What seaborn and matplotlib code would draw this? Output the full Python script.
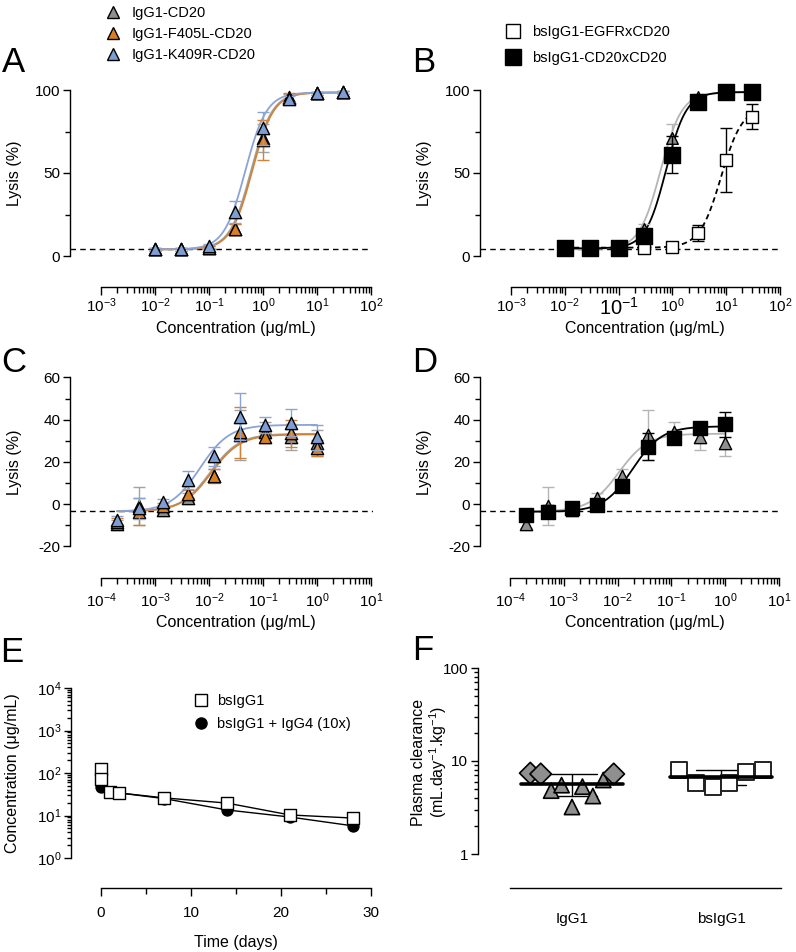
import numpy as np
import pandas as pd
import matplotlib
matplotlib.use("Agg")
import matplotlib.pyplot as plt
import seaborn as sns
from matplotlib.lines import Line2D
from matplotlib.ticker import FixedLocator, NullFormatter

# ---------------------------------------------------------------- data
# Panels A/B : CDC lysis vs concentration (ug/mL)
conc_ab = [0.01, 0.03, 0.1, 0.3, 1, 3, 10, 30]
igg1_cd20_ab = [4.0, 4.0, 5.0, 16.5, 71.0, 95.5, 98.0, 98.5]
igg1_cd20_ab_err = [1.0, 1.0, 1.0, 3.0, 8.5, 2.0, 1.0, 1.0]
f405l_ab = [4.0, 4.0, 5.0, 16.0, 70.0, 95.0, 98.0, 98.5]
f405l_ab_err = [1.0, 1.0, 1.0, 3.0, 12.0, 3.0, 1.0, 1.0]
k409r_ab = [4.0, 4.0, 6.0, 26.5, 77.0, 94.5, 98.0, 98.5]
k409r_ab_err = [1.0, 1.0, 1.0, 6.5, 10.0, 2.0, 1.0, 1.0]
egfrxcd20_ab = [4.5, 4.5, 4.5, 4.6, 5.6, 13.7, 58.0, 84.0]
egfrxcd20_ab_err = [0.5, 0.5, 0.5, 1.0, 1.0, 4.8, 19.4, 7.5]
cd20xcd20_ab = [4.6, 4.6, 5.0, 12.0, 61.0, 93.0, 98.6, 99.0]
cd20xcd20_ab_err = [1.0, 1.0, 1.0, 2.0, 11.0, 2.0, 1.0, 1.0]
# fitted 4-parameter logistic curves: [bottom, top, EC50, hill]
fit_igg1_cd20_ab = [4.0, 98.5, 0.60, 2.2]
fit_f405l_ab = [4.0, 98.5, 0.63, 2.2]
fit_k409r_ab = [4.0, 98.5, 0.47, 2.2]
fit_egfrxcd20_ab = [5.0, 90.0, 8.0, 2.2]
fit_cd20xcd20_ab = [4.6, 98.8, 0.76, 2.3]
baseline_ab = 4.0

# Panels C/D
conc_cd = [0.0002, 0.0005, 0.0014, 0.0041, 0.0123, 0.037, 0.111, 0.333, 1.0]
igg1_cd20_cd = [-9.5, -1.0, -2.8, 3.0, 13.5, 32.7, 34.0, 31.8, 29.0]
igg1_cd20_cd_err = [2.0, 9.0, 1.5, 2.0, 3.0, 12.0, 5.0, 6.0, 6.3]
f405l_cd = [-8.4, -3.6, -1.0, 4.7, 13.3, 34.0, 31.6, 33.5, 26.4]
f405l_cd_err = [2.0, 6.4, 1.5, 2.0, 3.3, 12.0, 2.0, 6.3, 3.7]
k409r_cd = [-7.6, -2.1, 1.1, 11.4, 22.7, 41.4, 37.4, 38.5, 31.6]
k409r_cd_err = [2.0, 5.0, 1.5, 4.4, 4.5, 11.0, 3.6, 6.4, 5.8]
cd20xcd20_cd = [-5.2, -3.6, -2.0, -0.5, 8.5, 27.2, 31.1, 36.2, 37.8]
cd20xcd20_cd_err = [3.0, 3.0, 1.0, 1.0, 2.0, 6.5, 2.0, 2.0, 6.0]
fit_igg1_cd20_cd = [-3.5, 33.3, 0.0105, 1.6]
fit_f405l_cd = [-3.5, 33.0, 0.011, 1.6]
fit_k409r_cd = [-3.5, 37.5, 0.0068, 1.6]
fit_cd20xcd20_cd = [-3.7, 36.8, 0.019, 1.6]
baseline_cd = -3.5

# Panel E : pharmacokinetics
time_days = [0.007, 0.04, 1, 2, 7, 14, 21, 28]
pk_bsigg1 = [124, 72, 36, 34, 26, 19.6, 10.3, 8.7]
pk_bsigg1_igg4 = [110, 47, 36, 34, 25, 13.5, 9.2, 5.7]

# Panel F : plasma clearance
groups_f = ["IgG1", "bsIgG1"]
clear_igg1 = [7.4, 7.25, 4.8, 5.5, 3.2, 5.3, 4.2, 6.25, 7.25]
clear_igg1_set = ["a", "a", "b", "b", "b", "b", "b", "b", "a"]
clear_bsigg1 = [8.0, 5.85, 5.3, 5.75, 7.7, 8.1]

# ---------------------------------------------------------------- style
sns.set_theme(style="ticks")
plt.rcParams["font.family"] = ["Liberation Sans", "DejaVu Sans"]
plt.rcParams["mathtext.fontset"] = "custom"
plt.rcParams["mathtext.rm"] = "Liberation Sans"
plt.rcParams["mathtext.it"] = "Liberation Sans:italic"
plt.rcParams["mathtext.bf"] = "Liberation Sans:bold"
plt.rcParams["mathtext.default"] = "regular"
plt.rcParams["axes.edgecolor"] = "black"
plt.rcParams["text.color"] = "black"
plt.rcParams["axes.labelcolor"] = "black"
plt.rcParams["xtick.color"] = "black"
plt.rcParams["ytick.color"] = "black"
plt.rcParams["axes.linewidth"] = 1.0

GRAY_F, GRAY_L = "#8f8f8f", "#a3a3a3"
ORANGE_F, ORANGE_L = "#d97f22", "#d0823a"
BLUE_F, BLUE_L = "#7d9dd3", "#8aa4d6"
LIGHT_L = "#b5b5b5"
TICK_FS, LAB_FS, LEG_FS = 11, 11.5, 10.5

W, H = 796, 952
PT = 0.72
fig = plt.figure(figsize=(W / 100, H / 100), dpi=100)


def new_axes(box, xlog=False, ylog=False):
    l, r, t, b = box
    ax = fig.add_axes([l / W, 1 - b / H, (r - l) / W, (b - t) / H])
    if xlog:
        ax.set_xscale("log")
    if ylog:
        ax.set_yscale("log")
    return ax


def finish_axes(ax, box, xmap, ymap, xlog, ylog, spine_px):
    l, r, t, b = box
    (p0, v0), (p1, v1) = xmap
    kx = (v1 - v0) / (p1 - p0)
    xl = [v0 + (l - p0) * kx, v0 + (r - p0) * kx]
    (q0, w0), (q1, w1) = ymap
    ky = (w1 - w0) / (q1 - q0)
    yl = [w0 + (b - q0) * ky, w0 + (t - q0) * ky]
    if xlog:
        xl = [10 ** v for v in xl]
    if ylog:
        yl = [10 ** v for v in yl]
    ax.set_xlim(xl)
    ax.set_ylim(yl)
    ax.spines["bottom"].set_position(("outward", (spine_px - b) * PT))
    ax.spines["top"].set_visible(False)
    ax.spines["right"].set_visible(False)
    ax.set_xlabel("")
    ax.set_ylabel("")


def set_labels(ax, box, xlabel, xl_px, ylabel, yl_px, linespacing=1.2):
    l, r, t, b = box
    if xlabel:
        ax.set_xlabel(xlabel, fontsize=LAB_FS)
        ax.xaxis.set_label_coords((xl_px[0] - l) / (r - l), (b - xl_px[1]) / (b - t))
        ax.xaxis.label.set_va("center")
    if ylabel:
        ax.set_ylabel(ylabel, fontsize=LAB_FS, linespacing=linespacing)
        ax.yaxis.set_label_coords((yl_px[0] - l) / (r - l), (b - yl_px[1]) / (b - t))
        ax.yaxis.label.set_va("center")
        ax.yaxis.label.set_ha("center")


def logistic(x, p):
    bot, top, ec, hill = p
    return bot + (top - bot) / (1 + (ec / x) ** hill)


def curve(ax, xdata, p, color, ls="-", lw=1.3):
    xs = np.logspace(np.log10(min(xdata)), np.log10(max(xdata)), 200)
    sns.lineplot(x=xs, y=logistic(xs, p), color=color, lw=lw, linestyle=ls,
                 ax=ax, zorder=2, estimator=None, sort=False)


def points(ax, x, y, err, marker, fill, ecol, size, z):
    ax.errorbar(x, y, yerr=err, fmt="none", ecolor=ecol, elinewidth=1.0,
                capsize=4, capthick=1.0, zorder=z)
    sns.scatterplot(x=x, y=y, marker=marker, s=size, color=fill, edgecolor="black",
                    linewidth=1.0, ax=ax, zorder=z + 0.5, legend=False)


def log_xticks(ax, d0, d1, pad, big=None):
    majors = [10.0 ** n for n in range(d0, d1 + 1)]
    minors = [k * 10.0 ** n for n in range(d0, d1) for k in range(2, 10)]
    ax.xaxis.set_major_locator(FixedLocator(majors))
    ax.xaxis.set_minor_locator(FixedLocator(minors))
    ax.xaxis.set_minor_formatter(NullFormatter())
    ax.set_xticklabels([r"$10^{%d}$" % n for n in range(d0, d1 + 1)])
    ax.spines["bottom"].set_bounds(majors[0], majors[-1])
    ax.tick_params(axis="x", which="major", direction="out", length=6, width=1.0,
                   pad=pad, labelsize=TICK_FS)
    ax.tick_params(axis="x", which="minor", direction="out", length=4, width=1.0)
    if big is not None:
        for lab, n in zip(ax.get_xticklabels(), range(d0, d1 + 1)):
            if n == big:
                lab.set_fontsize(14.5)


def lin_yticks(ax, majors, minors, pad=2):
    ax.yaxis.set_major_locator(FixedLocator(majors))
    ax.yaxis.set_minor_locator(FixedLocator(minors))
    ax.yaxis.set_minor_formatter(NullFormatter())
    ax.set_yticklabels([str(v) for v in majors])
    ax.spines["left"].set_bounds(majors[0], majors[-1])
    ax.tick_params(axis="y", which="major", direction="out", length=5, width=1.0,
                   pad=pad, labelsize=TICK_FS)
    ax.tick_params(axis="y", which="minor", direction="out", length=3.5, width=1.0)


def marker_handle(marker, fill, ms, label):
    return Line2D([], [], ls="none", marker=marker, markersize=ms, markerfacecolor=fill,
                  markeredgecolor="black", markeredgewidth=1.0, label=label)


def put_legend(handles, left_px, top_px, spacing, textpad):
    fig.legend(handles=handles, loc="upper left",
               bbox_to_anchor=(left_px / W, 1 - top_px / H), bbox_transform=fig.transFigure,
               frameon=False, fontsize=LEG_FS, handlelength=1.0, handletextpad=textpad,
               labelspacing=spacing, borderaxespad=0, borderpad=0.4)


CONC_LABEL = "Concentration (μg/mL)"

# ---------------------------------------------------------------- panel A
boxA = (70, 371, 78, 266)
axA = new_axes(boxA, xlog=True)
ax = axA
ax.axhline(baseline_ab, color="black", lw=1.0, ls=(0, (4, 3)), zorder=1)
curve(ax, conc_ab, fit_igg1_cd20_ab, GRAY_L)
curve(ax, conc_ab, fit_f405l_ab, ORANGE_L)
curve(ax, conc_ab, fit_k409r_ab, BLUE_L)
points(ax, conc_ab, igg1_cd20_ab, igg1_cd20_ab_err, "^", GRAY_F, GRAY_L, 78, 3)
points(ax, conc_ab, f405l_ab, f405l_ab_err, "^", ORANGE_F, ORANGE_L, 78, 5)
points(ax, conc_ab, k409r_ab, k409r_ab_err, "^", BLUE_F, BLUE_L, 78, 7)
finish_axes(ax, boxA, ((101, -3), (371, 2)), ((256, 0), (90, 100)), True, False, 287)
log_xticks(ax, -3, 2, pad=1)
lin_yticks(ax, [0, 50, 100], [25, 75])
set_labels(ax, boxA, CONC_LABEL, (236, 328), "Lysis (%)", (15, 173))

# ---------------------------------------------------------------- panel B
boxB = (480, 780, 78, 266)
ax = new_axes(boxB, xlog=True)
ax.axhline(baseline_ab, color="black", lw=1.0, ls=(0, (4, 3)), zorder=1)
curve(ax, conc_ab, fit_igg1_cd20_ab, LIGHT_L)
curve(ax, conc_ab, fit_egfrxcd20_ab, "black", ls=(0, (3, 2)))
curve(ax, conc_ab, fit_cd20xcd20_ab, "black")
points(ax, conc_ab, igg1_cd20_ab, igg1_cd20_ab_err, "^", GRAY_F, LIGHT_L, 70, 3)
points(ax, conc_ab, egfrxcd20_ab, egfrxcd20_ab_err, "s", "white", "black", 85, 5)
points(ax, conc_ab, cd20xcd20_ab, cd20xcd20_ab_err, "s", "black", "black", 125, 7)
finish_axes(ax, boxB, ((511, -3), (780, 2)), ((256, 0), (90, 100)), True, False, 287)
log_xticks(ax, -3, 2, pad=1, big=-1)
lin_yticks(ax, [0, 50, 100], [25, 75])
set_labels(ax, boxB, CONC_LABEL, (645, 328), "Lysis (%)", (425, 173))

# ---------------------------------------------------------------- panel C
boxC = (70, 373, 368, 556)
ax = new_axes(boxC, xlog=True)
ax.axhline(baseline_cd, color="black", lw=1.0, ls=(0, (4, 3)), zorder=1)
curve(ax, conc_cd, fit_igg1_cd20_cd, GRAY_L)
curve(ax, conc_cd, fit_f405l_cd, ORANGE_L)
curve(ax, conc_cd, fit_k409r_cd, BLUE_L)
points(ax, conc_cd, igg1_cd20_cd, igg1_cd20_cd_err, "^", GRAY_F, GRAY_L, 78, 3)
points(ax, conc_cd, f405l_cd, f405l_cd_err, "^", ORANGE_F, ORANGE_L, 78, 5)
points(ax, conc_cd, k409r_cd, k409r_cd_err, "^", BLUE_F, BLUE_L, 78, 7)
finish_axes(ax, boxC, ((101, -4), (371, 1)), ((504, 0), (377.4, 60)), True, False, 578)
log_xticks(ax, -4, 1, pad=4)
lin_yticks(ax, [-20, 0, 20, 40, 60], [-10, 10, 30, 50])
set_labels(ax, boxC, CONC_LABEL, (236, 622), "Lysis (%)", (15, 462))

# ---------------------------------------------------------------- panel D
boxD = (480, 781, 368, 556)
ax = new_axes(boxD, xlog=True)
ax.axhline(baseline_cd, color="black", lw=1.0, ls=(0, (4, 3)), zorder=1)
curve(ax, conc_cd, fit_igg1_cd20_cd, LIGHT_L)
curve(ax, conc_cd, fit_cd20xcd20_cd, "black")
points(ax, conc_cd, igg1_cd20_cd, igg1_cd20_cd_err, "^", GRAY_F, LIGHT_L, 78, 3)
points(ax, conc_cd, cd20xcd20_cd, cd20xcd20_cd_err, "s", "black", "black", 110, 5)
finish_axes(ax, boxD, ((510, -4), (779, 1)), ((504, 0), (377.4, 60)), True, False, 578)
log_xticks(ax, -4, 1, pad=4)
lin_yticks(ax, [-20, 0, 20, 40, 60], [-10, 10, 30, 50])
set_labels(ax, boxD, CONC_LABEL, (645, 622), "Lysis (%)", (425, 462))

# ---------------------------------------------------------------- panel E
boxE = (71, 373, 680, 862)
ax = new_axes(boxE, ylog=True)
sns.lineplot(x=time_days, y=pk_bsigg1_igg4, color="black", lw=1.0, ax=ax, zorder=2)
sns.lineplot(x=time_days, y=pk_bsigg1, color="black", lw=1.0, ax=ax, zorder=2)
sns.scatterplot(x=time_days, y=pk_bsigg1_igg4, marker="o", s=62, color="black",
                edgecolor="black", linewidth=1.0, ax=ax, zorder=3, legend=False)
sns.scatterplot(x=time_days, y=pk_bsigg1, marker="s", s=72, color="white",
                edgecolor="black", linewidth=1.0, ax=ax, zorder=4, legend=False)
finish_axes(ax, boxE, ((101, 0), (371, 30)), ((858, 0), (688, 4)), False, True, 888)
ax.xaxis.set_major_locator(FixedLocator([0, 10, 20, 30]))
ax.xaxis.set_minor_locator(FixedLocator([5, 15, 25]))
ax.spines["bottom"].set_bounds(0, 30)
ax.tick_params(axis="x", which="major", direction="out", length=6, width=1.0, pad=7,
               labelsize=TICK_FS)
ax.tick_params(axis="x", which="minor", direction="out", length=4, width=1.0)
ax.yaxis.set_major_locator(FixedLocator([1, 10, 100, 1000, 10000]))
ax.yaxis.set_minor_locator(FixedLocator([k * 10.0 ** n for n in range(0, 4) for k in range(2, 10)]))
ax.yaxis.set_minor_formatter(NullFormatter())
ax.set_yticklabels([r"$10^{%d}$" % n for n in range(0, 5)])
ax.spines["left"].set_bounds(1, 10000)
ax.tick_params(axis="y", which="major", direction="out", length=5, width=1.0, pad=2,
               labelsize=TICK_FS)
ax.tick_params(axis="y", which="minor", direction="out", length=3, width=1.0)
set_labels(ax, boxE, "Time (days)", (236, 942), CONC_LABEL, (13, 773))

# ---------------------------------------------------------------- panel F
boxF = (478, 781, 664, 858)
ax = new_axes(boxF, ylog=True)
spread_igg1, spread_bs = 0.07, 0.112
f_df = pd.DataFrame({
    "group": ["IgG1"] * len(clear_igg1) + ["bsIgG1"] * len(clear_bsigg1),
    "set": clear_igg1_set + ["c"] * len(clear_bsigg1),
    "clearance": clear_igg1 + clear_bsigg1,
})
f_df["order"] = f_df.groupby("group").cumcount()
f_df["n"] = f_df.groupby("group")["clearance"].transform("size")
f_df["gpos"] = f_df["group"].map({g: i for i, g in enumerate(groups_f)})
f_df["pos"] = f_df["gpos"] + (f_df["order"] - (f_df["n"] - 1) / 2) * np.where(
    f_df["group"] == "IgG1", spread_igg1, spread_bs)
stats = f_df.groupby("gpos")["clearance"].agg(["mean", "std"]).reset_index()
for _, row in stats.iterrows():
    g = row["gpos"]
    ax.plot([g - 0.34, g + 0.34], [row["mean"]] * 2, color="black", lw=2.6, zorder=5)
    for v in (row["mean"] + row["std"], row["mean"] - row["std"]):
        ax.plot([g - 0.17, g + 0.17], [v, v], color="black", lw=1.0, zorder=2)
    ax.plot([g, g], [row["mean"] - row["std"], row["mean"] + row["std"]],
            color="black", lw=1.0, zorder=2)
sns.scatterplot(data=f_df[f_df["group"] == "IgG1"], x="pos", y="clearance", style="set",
                markers={"a": "D", "b": "^"}, s=120, color=GRAY_F, edgecolor="black",
                linewidth=1.2, ax=ax, zorder=4, legend=False)
sns.scatterplot(data=f_df[f_df["group"] == "bsIgG1"], x="pos", y="clearance", marker="s",
                s=120, color="white", edgecolor="#222222", linewidth=1.4, ax=ax, zorder=3,
                legend=False)
finish_axes(ax, boxF, ((572, 0), (721, 1)), ((854, 0), (668, 2)), False, True, 888)
ax.spines["bottom"].set_bounds((510 - 572) / 149, (781 - 572) / 149)
ax.set_xticks([0, 1])
ax.set_xticklabels(groups_f)
ax.tick_params(axis="x", which="both", length=0, pad=17, labelsize=TICK_FS)
ax.yaxis.set_major_locator(FixedLocator([1, 10, 100]))
ax.yaxis.set_minor_locator(FixedLocator([k * 10.0 ** n for n in range(0, 2) for k in range(2, 10)]))
ax.yaxis.set_minor_formatter(NullFormatter())
ax.set_yticklabels(["1", "10", "100"])
ax.spines["left"].set_bounds(1, 100)
ax.tick_params(axis="y", which="major", direction="out", length=5, width=1.0, pad=2,
               labelsize=TICK_FS)
ax.tick_params(axis="y", which="minor", direction="out", length=3, width=1.0)
set_labels(ax, boxF, None, None, "Plasma clearance\n(mL.day$^{-1}$.kg$^{-1}$)", (430, 762),
           linespacing=1.1)

# ---------------------------------------------------------------- legends
put_legend([marker_handle("^", GRAY_F, 8.6, "IgG1-CD20"),
            marker_handle("^", ORANGE_F, 8.6, "IgG1-F405L-CD20"),
            marker_handle("^", BLUE_F, 8.6, "IgG1-K409R-CD20")], 100, 0, 0.5, 0.8)
put_legend([marker_handle("s", "white", 9.5, "bsIgG1-EGFRxCD20"),
            marker_handle("s", "black", 11, "bsIgG1-CD20xCD20")], 500, 19, 0.84, 0.8)
put_legend([marker_handle("s", "white", 8.5, "bsIgG1"),
            marker_handle("o", "black", 8, "bsIgG1 + IgG4 (10x)")], 188, 688, 0.63, 0.6)

# ---------------------------------------------------------------- panel letters
for letter, x, y in [("A", 2, 72), ("B", 412, 72), ("C", 1, 372),
                     ("D", 412, 372), ("E", 0, 662), ("F", 412, 660)]:
    fig.text(x / W, 1 - y / H, letter, fontsize=25, ha="left", va="baseline")

fig.savefig("out.png", dpi=100)
